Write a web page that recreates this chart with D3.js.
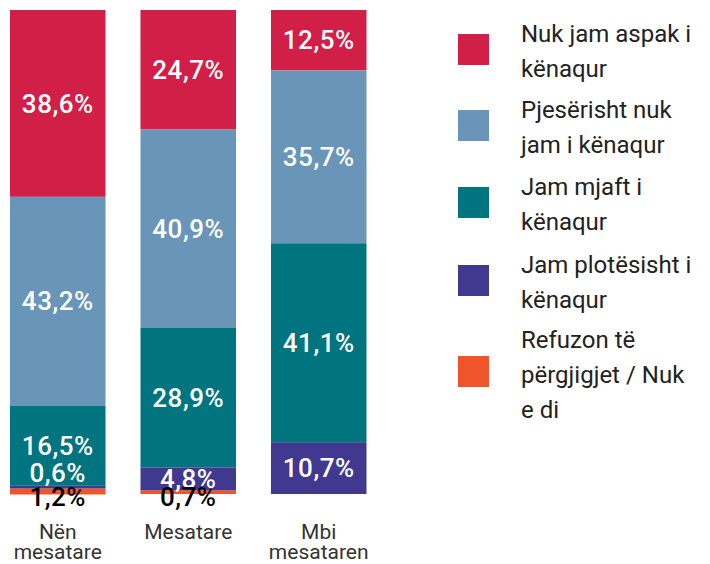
<!DOCTYPE html>
<html>
<head>
<meta charset="utf-8">
<script src="https://cdn.jsdelivr.net/npm/d3@7"></script>
<style>
  body { margin: 0; background: #fff; }
  svg { font-family: Roboto, "Open Sans", sans-serif; }
</style>
</head>
<body>
<svg width="710" height="564"></svg>
<script>
const categories = ['Nën mesatare', 'Mesatare', 'Mbi mesataren']
const categoryLines = [['Nën', 'mesatare'], ['Mesatare'], ['Mbi', 'mesataren']]
const seriesNames = [
  'Nuk jam aspak i kënaqur',
  'Pjesërisht nuk jam i kënaqur',
  'Jam mjaft i kënaqur',
  'Jam plotësisht i kënaqur',
  'Refuzon të përgjigjet / Nuk e di',
]
const legendLines = [
  ['Nuk jam aspak i', 'kënaqur'],
  ['Pjesërisht nuk', 'jam i kënaqur'],
  ['Jam mjaft i', 'kënaqur'],
  ['Jam plotësisht i', 'kënaqur'],
  ['Refuzon të', 'përgjigjet / Nuk', 'e di'],
]
const colors = ['#d21f47', '#6895b8', '#00747f', '#41388f', '#f0542b']

const notSatisfied = [38.6, 24.7, 12.5]
const partlyNot = [43.2, 40.9, 35.7]
const fairly = [16.5, 28.9, 41.1]
const fully = [0.6, 4.8, 10.7]
const refused = [1.2, 0.7, 0]

const seriesValues = [notSatisfied, partlyNot, fairly, fully, refused]

const svg = d3.select('svg')

const x = d3.scaleBand()
  .domain(categories)
  .range([10, 366.5])
  .paddingInner(0.268)
  .paddingOuter(0)

const y = d3.scaleLinear()
  .domain([0, 100])
  .range([10, 494])

const table = categories.map((c, i) => {
  const row = { cat: c }
  seriesNames.forEach((s, j) => { row[s] = seriesValues[j][i] })
  return row
})

const stacked = d3.stack().keys(seriesNames)(table)

const groups = svg.append('g')
  .selectAll('g')
  .data(stacked)
  .join('g')
    .attr('fill', (d, i) => colors[i])

groups.selectAll('rect')
  .data(d => d)
  .join('rect')
    .attr('x', d => x(d.data.cat))
    .attr('y', d => y(d[0]))
    .attr('width', x.bandwidth())
    .attr('height', d => y(d[1]) - y(d[0]))

// value labels
stacked.forEach((s, si) => {
  s.forEach(d => {
    const v = d[1] - d[0]
    if (v <= 0) return
    let cy = (y(d[0]) + y(d[1])) / 2
    let fill = '#fff'
    if (v < 1 && si === 3) cy -= 14
    if (si === 4) { cy += 5; fill = '#000' }
    svg.append('text')
      .attr('x', x(d.data.cat) + x.bandwidth() / 2)
      .attr('y', cy)
      .attr('dy', '0.35em')
      .attr('text-anchor', 'middle')
      .attr('font-size', 26)
      .attr('font-weight', 500)
      .attr('letter-spacing', 0.5)
      .attr('fill', fill)
      .text(v.toFixed(1).replace('.', ',') + '%')
  })
})

// category labels
categories.forEach((c, i) => {
  svg.append('text')
    .attr('x', x(c) + x.bandwidth() / 2)
    .attr('y', 539)
    .attr('text-anchor', 'middle')
    .attr('font-size', 21)
    .attr('fill', '#333')
    .selectAll('tspan')
    .data(categoryLines[i])
    .join('tspan')
      .attr('x', x(c) + x.bandwidth() / 2)
      .attr('dy', (d, k) => k === 0 ? 0 : 20)
      .text(d => d)
})

// legend
const legendTop = [42, 118, 195, 273, 348]
const legend = svg.append('g')
legendLines.forEach((lines, i) => {
  const n = lines.length
  legend.append('rect')
    .attr('x', 458)
    .attr('y', legendTop[i] - 8 + (n - 2) * 16)
    .attr('width', 31)
    .attr('height', 31)
    .attr('fill', colors[i])
  legend.append('text')
    .attr('x', 521)
    .attr('y', legendTop[i])
    .attr('font-size', 24)
    .attr('fill', '#222')
    .selectAll('tspan')
    .data(lines)
    .join('tspan')
      .attr('x', 521)
      .attr('dy', (d, k) => k === 0 ? 0 : 35)
      .text(d => d)
})
</script>
</body>
</html>
